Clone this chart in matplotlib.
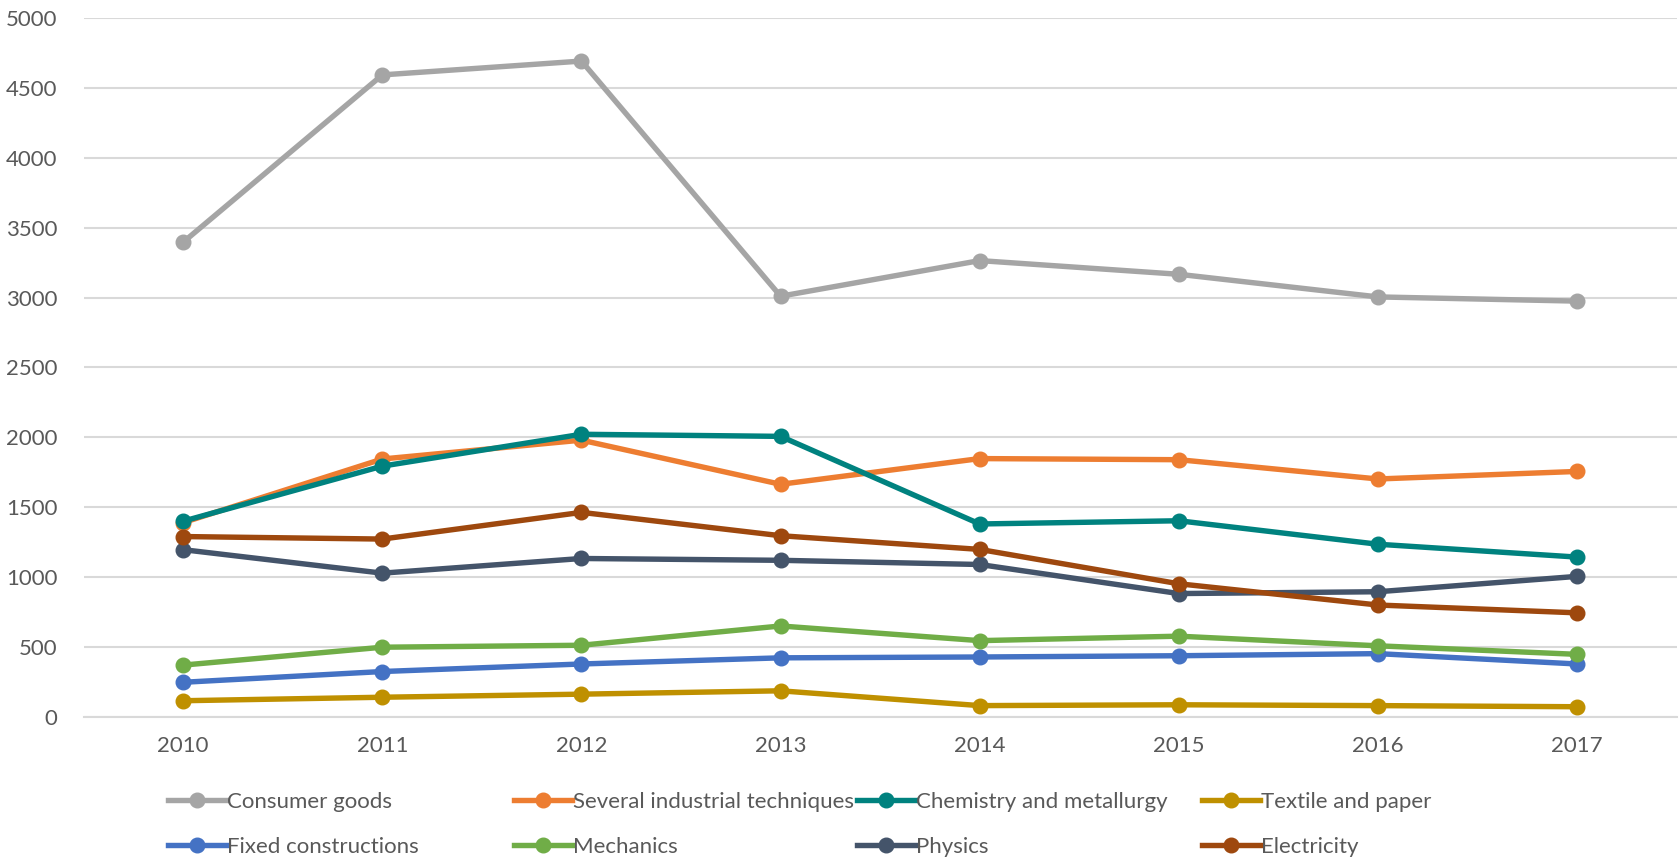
import matplotlib
matplotlib.use("Agg")
import matplotlib.pyplot as plt
from matplotlib.lines import Line2D

years = ["2010", "2011", "2012", "2013", "2014", "2015", "2016", "2017"]

consumer_goods = [3397, 4594, 4693, 3010, 3265, 3167, 3005, 2975]
several_industrial = [1390, 1845, 1980, 1664, 1848, 1840, 1702, 1756]
chemistry_metallurgy = [1400, 1794, 2022, 2007, 1380, 1403, 1235, 1143]
textile_paper = [115, 140, 162, 186, 80, 86, 80, 72]
fixed_constructions = [247, 324, 378, 422, 428, 437, 452, 378]
mechanics = [370, 498, 512, 650, 545, 577, 508, 447]
physics = [1196, 1028, 1133, 1120, 1090, 882, 895, 1005]
electricity = [1290, 1272, 1463, 1296, 1198, 952, 800, 744]

series = [
    ("Consumer goods", consumer_goods, "#A5A5A5"),
    ("Several industrial techniques", several_industrial, "#ED7D31"),
    ("Chemistry and metallurgy", chemistry_metallurgy, "#00827F"),
    ("Textile and paper", textile_paper, "#BF9000"),
    ("Fixed constructions", fixed_constructions, "#4472C4"),
    ("Mechanics", mechanics, "#70AD47"),
    ("Physics", physics, "#44546A"),
    ("Electricity", electricity, "#9E480E"),
]

plt.rcParams['font.family'] = ['Lato', 'DejaVu Sans']

fig = plt.figure(figsize=(16.8, 8.57), dpi=100)
ax = fig.add_axes([0.0498, 0.1636, 0.9482, 0.8152])

x = list(range(len(years)))
for name, vals, col in series:
    ax.plot(x, vals, color=col, lw=3.9, marker='o', ms=10.5,
            solid_capstyle='round', solid_joinstyle='round', zorder=3)

ax.set_xlim(-0.5, len(years) - 0.5)
ax.set_ylim(0, 5000)
ax.set_yticks(range(0, 5001, 500))
ax.set_xticks(x)
ax.set_xticklabels(years)
ax.grid(axis='y', color='#D9D9D9', lw=1.5, zorder=0)
ax.set_axisbelow(True)
for s in ['top', 'right', 'left']:
    ax.spines[s].set_visible(False)
ax.spines['bottom'].set_color('#D9D9D9')
ax.spines['bottom'].set_linewidth(1.5)
ax.tick_params(axis='both', length=0, labelsize=16, labelcolor='#595959')
ax.tick_params(axis='y', pad=19)
ax.tick_params(axis='x', pad=14)

# legend: 2 rows x 4 columns at fixed positions
col_x = [168 / 1680, 514 / 1680, 857 / 1680, 1202 / 1680]
row_y = [1 - 802 / 857, 1 - 847 / 857]
for i, (name, vals, col) in enumerate(series):
    r, c = divmod(i, 4)
    h = Line2D([], [], color=col, lw=3.9, marker='o', ms=10.5)
    fig.legend(handles=[h], labels=[name], loc='center left',
               bbox_to_anchor=(col_x[c], row_y[r]), frameon=False,
               borderpad=0, borderaxespad=0, handlelength=2.6,
               handletextpad=0.05, fontsize=16, labelcolor='#595959')

fig.savefig("out.png", dpi=100)
